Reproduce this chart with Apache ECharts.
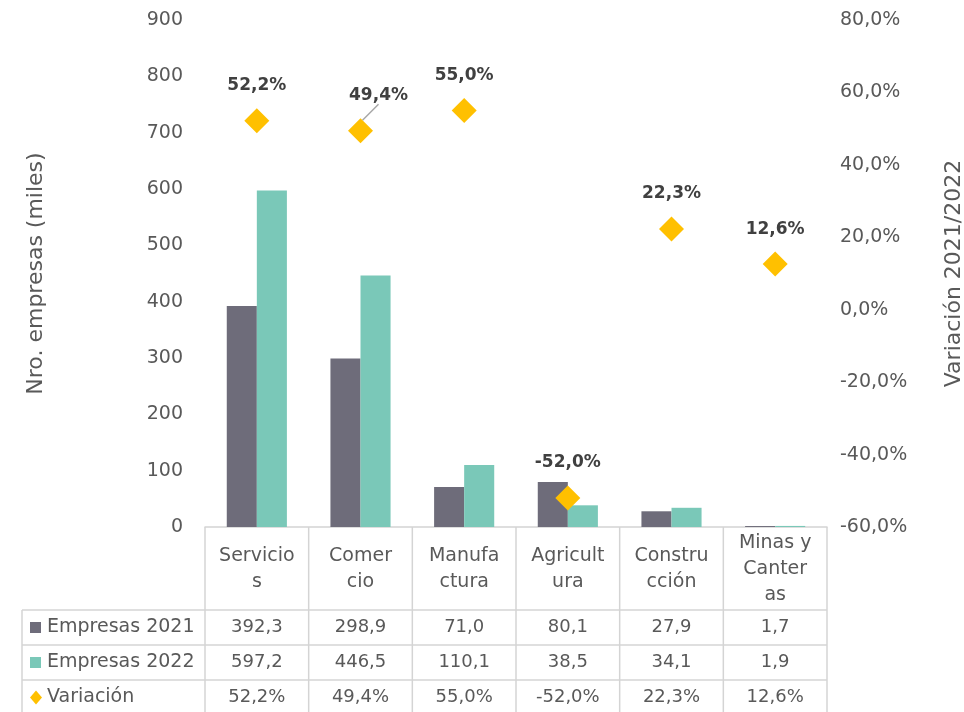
<!DOCTYPE html>
<html>
<head>
<meta charset="utf-8">
<script src="https://cdn.jsdelivr.net/npm/echarts@6/dist/echarts.min.js"></script>
<style>
  html, body { margin: 0; padding: 0; background: #fff; }
  #chart { width: 964px; height: 712px; }
</style>
</head>
<body>
<div id="chart"></div>
<script>
// datos
var categories = ['Servicio\ns', 'Comer\ncio', 'Manufa\nctura', 'Agricult\nura', 'Constru\ncción', 'Minas y\nCanter\nas'];
var empresas2021 = [392.3, 298.9, 71.0, 80.1, 27.9, 1.7];
var empresas2022 = [597.2, 446.5, 110.1, 38.5, 34.1, 1.9];
var variacion = [52.2, 49.4, 55.0, -52.0, 22.3, 12.6];
var seriesNames = ['Empresas 2021', 'Empresas 2022', 'Variación'];

var colors = ['#6E6C7A', '#7AC8B8', '#FFC000'];
var font = 'DejaVu Sans';
var textColor = '#595959';
var lineColor = '#D4D4D4';

function fmt1(v) {
  return v.toFixed(1).replace('.', ',');
}

var chartDom = document.getElementById('chart');
var myChart = echarts.init(chartDom);
var option;

option = {
  animation: false,
  textStyle: { fontFamily: font },
  grid: { left: 205, right: 137, top: 20, bottom: 185, outerBoundsMode: 'none' },
  xAxis: {
    type: 'category',
    data: categories,
    axisTick: { show: false },
    axisLine: { lineStyle: { color: lineColor, width: 1.5 } },
    axisLabel: {
      color: textColor, fontSize: 19, lineHeight: 26,
      verticalAlign: 'middle', margin: 42, interval: 0
    }
  },
  yAxis: [{
    type: 'value',
    min: 0, max: 900, interval: 100,
    splitLine: { show: false },
    axisLine: { show: false },
    axisTick: { show: false },
    axisLabel: { color: textColor, fontSize: 19, margin: 22 },
    name: 'Nro. empresas (miles)',
    nameLocation: 'middle',
    nameRotate: 90,
    nameGap: 158,
    nameTextStyle: { color: textColor, fontSize: 22 }
  }, {
    type: 'value',
    min: -60, max: 80, interval: 20,
    splitLine: { show: false },
    axisLine: { show: false },
    axisTick: { show: false },
    axisLabel: {
      color: textColor, fontSize: 19, margin: 13,
      formatter: function (v) { return fmt1(v) + '%'; }
    },
    name: 'Variación 2021/2022',
    nameLocation: 'middle',
    nameRotate: 90,
    nameGap: 116,
    nameTextStyle: { color: textColor, fontSize: 22 }
  }],
  series: [{
    name: seriesNames[0],
    type: 'bar',
    data: empresas2021,
    itemStyle: { color: colors[0] },
    barGap: 0,
    barCategoryGap: '42%'
  }, {
    name: seriesNames[1],
    type: 'bar',
    data: empresas2022,
    itemStyle: { color: colors[1] }
  }, {
    name: seriesNames[2],
    type: 'scatter',
    yAxisIndex: 1,
    data: variacion.map(function (v, i) {
      // solo la etiqueta de Comercio va desplazada con línea guía
      return i === 1 ? { value: v, labelLine: { show: true } } : v;
    }),
    symbol: 'diamond',
    symbolSize: 25,
    itemStyle: { color: colors[2], opacity: 1 },
    z: 5,
    label: {
      show: true,
      position: 'top',
      distance: 14,
      color: '#404040',
      fontSize: 17,
      fontWeight: 'bold',
      formatter: function (p) { return fmt1(p.value) + '%'; }
    },
    labelLine: { show: false, lineStyle: { color: '#A6A6A6', width: 1.5 } },
    labelLayout: function (p) {
      if (p.dataIndex === 1) return { dx: 18 };
      return {};
    }
  }]
};
option && myChart.setOption(option);

// tabla de datos
function buildTable() {
  var c0 = myChart.convertToPixel({ xAxisIndex: 0 }, 0);
  var c1 = myChart.convertToPixel({ xAxisIndex: 0 }, 1);
  var band = c1 - c0;
  var axisY = myChart.convertToPixel({ yAxisIndex: 0 }, 0);
  var tableLeft = 22;
  var rowTop = 610;
  var rowH = 35;
  var bottom = 712;
  var right = c0 + band * (categories.length - 0.5);
  var els = [];
  var ls = { stroke: lineColor, lineWidth: 1.5 };

  // lineas horizontales
  for (var r = 0; r < 3; r++) {
    var y = rowTop + r * rowH;
    els.push({ type: 'line', shape: { x1: tableLeft, y1: y, x2: right, y2: y }, style: ls });
  }
  // lineas verticales
  els.push({ type: 'line', shape: { x1: tableLeft, y1: rowTop, x2: tableLeft, y2: bottom }, style: ls });
  for (var i = 0; i <= categories.length; i++) {
    var x = c0 + band * (i - 0.5);
    els.push({ type: 'line', shape: { x1: x, y1: axisY, x2: x, y2: bottom }, style: ls });
  }

  var rows = [
    empresas2021.map(fmt1),
    empresas2022.map(fmt1),
    variacion.map(function (v) { return fmt1(v) + '%'; })
  ];
  rows.forEach(function (vals, r) {
    var cy = rowTop + r * rowH + rowH / 2;
    if (r < 2) {
      els.push({ type: 'rect', shape: { x: 30, y: cy - 5.5, width: 11, height: 11 }, style: { fill: colors[r] } });
    } else {
      els.push({ type: 'polygon', shape: { points: [[36, cy - 7], [42, cy], [36, cy + 7], [30, cy]] }, style: { fill: colors[2] } });
    }
    els.push({
      type: 'text', x: 47, y: cy,
      style: { text: seriesNames[r], fill: textColor, font: '19px ' + font, verticalAlign: 'middle', align: 'left' }
    });
    vals.forEach(function (t, i) {
      els.push({
        type: 'text', x: c0 + band * i, y: cy,
        style: { text: t, fill: textColor, font: '18px ' + font, verticalAlign: 'middle', align: 'center' }
      });
    });
  });

  myChart.setOption({ graphic: { elements: els } });
}
buildTable();
</script>
</body>
</html>
